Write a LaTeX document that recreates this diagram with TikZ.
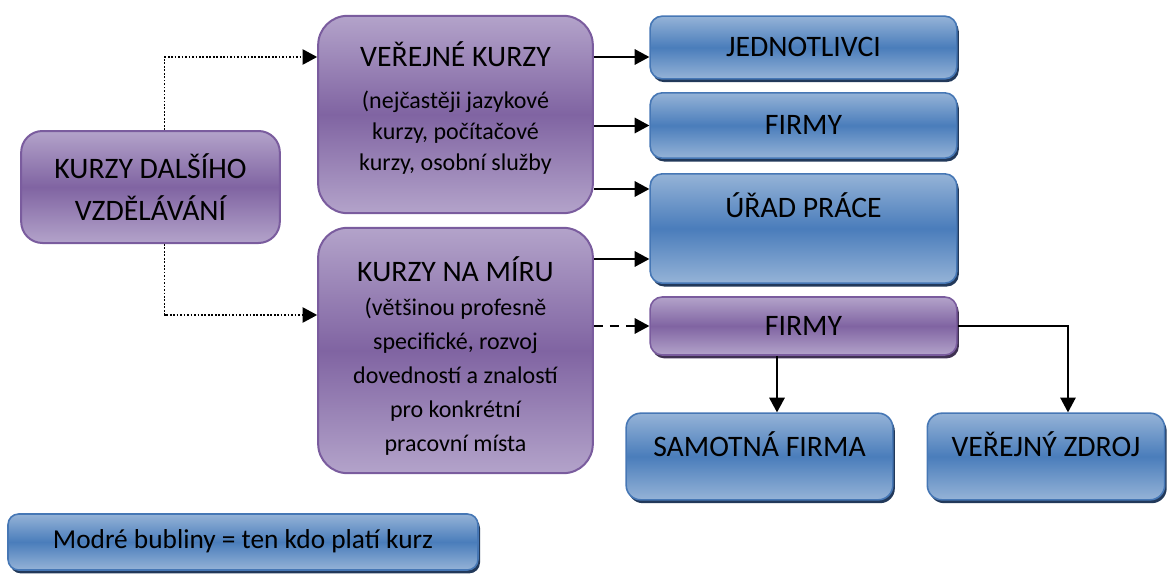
\documentclass[tikz,border=0pt]{standalone}
\usepackage{fontspec}
\setmainfont{Carlito}
\usetikzlibrary{arrows.meta,calc,shadows}
\usepackage{xcolor}
\definecolor{lila}{HTML}{8064A2}
\definecolor{lilalight}{HTML}{B3A3CA}
\definecolor{lilaline}{HTML}{7A5C9E}
\definecolor{lilashadow}{HTML}{3F3151}
\definecolor{modra}{HTML}{4A7DBB}
\definecolor{modralight}{HTML}{95B3D7}
\definecolor{modraline}{HTML}{4677B5}
\definecolor{modrashadow}{HTML}{22395A}
\newcommand{\bigf}{\fontsize{22.3}{31.5}\selectfont}
\newcommand{\smallf}{\fontsize{18}{23.5}\selectfont}

\begin{document}
\begin{tikzpicture}[x=0.75pt,y=-0.75pt]
		\tikzset{box/.style = {shape=rectangle, align=center, inner sep=2pt, text=black},
			purplebox/.style = {box, draw=lilaline, line width=1.5pt, top color=lilalight, bottom color=lilalight, middle color=lila},
			bluebox/.style = {box, draw=modraline, line width=1.2pt, top color=modralight, bottom color=modralight, middle color=modra, rounded corners=9pt, font=\bigf, text height=14pt, text depth=0pt, drop shadow={shadow xshift=1.5pt, shadow yshift=-2.5pt, fill=modrashadow, opacity=1}},
			conn/.style = {draw=black, line width=1.5pt, -{Triangle[length=11pt,width=11.5pt]}},
			dots/.style = {conn, line width=1.3pt, dash pattern=on 1.3pt off 1.3pt}}
		\useasboundingbox (0,0) rectangle (1168,575);
		\node[purplebox, rounded corners=16pt, minimum width=194pt, minimum height=84pt, font=\bigf] (0) at (150.5,187) {KURZY DALŠÍHO\\VZDĚLÁVÁNÍ};
		\node[purplebox, rounded corners=22pt, minimum width=206pt, minimum height=148pt, font=\smallf, text depth=12.6pt] (1) at (455.5,114.5) {{\bigf VEŘEJNÉ KURZY}\\[8pt](nejčastěji jazykové\\kurzy, počítačové\\kurzy, osobní služby};
		\node[purplebox, rounded corners=22pt, minimum width=206pt, minimum height=184pt, font=\fontsize{18}{25.5}\selectfont, text height=154pt] (2) at (455.5,350.5) {{\bigf KURZY NA MÍRU}\\(většinou profesně\\specifické, rozvoj\\dovedností a znalostí\\pro konkrétní\\pracovní místa};
		\node[bluebox, minimum width=230pt, minimum height=47pt] (3) at (803.5,47.5) {JEDNOTLIVCI};
		\node[bluebox, minimum width=230pt, minimum height=49pt] (4) at (803.5,125.5) {FIRMY};
		\node[bluebox, minimum width=230pt, minimum height=82pt, text depth=31pt] (5) at (803.5,228.5) {ÚŘAD PRÁCE};
		\node[purplebox, line width=1.2pt, rounded corners=9pt, minimum width=230pt, minimum height=43.5pt, font=\bigf, drop shadow={shadow xshift=1.5pt, shadow yshift=-2.5pt, fill=lilashadow, opacity=1}] (6) at (803.5,326) {FIRMY};
		\node[bluebox, rounded corners=11pt, minimum width=200pt, minimum height=65pt, text depth=14.4pt] (7) at (759.5,456.5) {SAMOTNÁ FIRMA};
		\node[bluebox, rounded corners=11pt, minimum width=178pt, minimum height=65pt, text depth=14.4pt] (8) at (1046,456.5) {VEŘEJNÝ ZDROJ};
		\node[bluebox, rounded corners=8pt, minimum width=352.5pt, minimum height=42pt, font=\fontsize{20.5}{24}\selectfont, text height=14.5pt, text depth=4.5pt] (9) at (243,542) {Modré bubliny = ten kdo platí kurz};
		%edges
		\draw[dots] ($(0.north)+(14,0)$) |- ($(1.west)+(0,-57.5)$);
		\draw[dots] ($(0.south)+(14,0)$) |- ($(2.west)+(0,-35.5)$);
		\draw[conn] ($(1.east |- 3.west)+(0,9.5)$) -- ($(3.west)+(0,9.5)$);
		\draw[conn] (1.east |- 4.west) -- (4.west);
		\draw[conn] ($(1.east |- 5.west)+(0,-39.5)$) -- ($(5.west)+(0,-39.5)$);
		\draw[conn] ($(2.east |- 5.west)+(0,30.5)$) -- ($(5.west)+(0,30.5)$);
		\draw[conn, dash pattern=on 7pt off 5pt] (2.east |- 6.west) -- (6.west);
		\coordinate (d) at ($(6.south)+(-26.5,0)$);
		\draw[conn] (d) -- (d |- 7.north);
		\draw[conn, line width=1pt] (6.east) -| ($(8.north)+(22,0)$);
\end{tikzpicture}
\end{document}
